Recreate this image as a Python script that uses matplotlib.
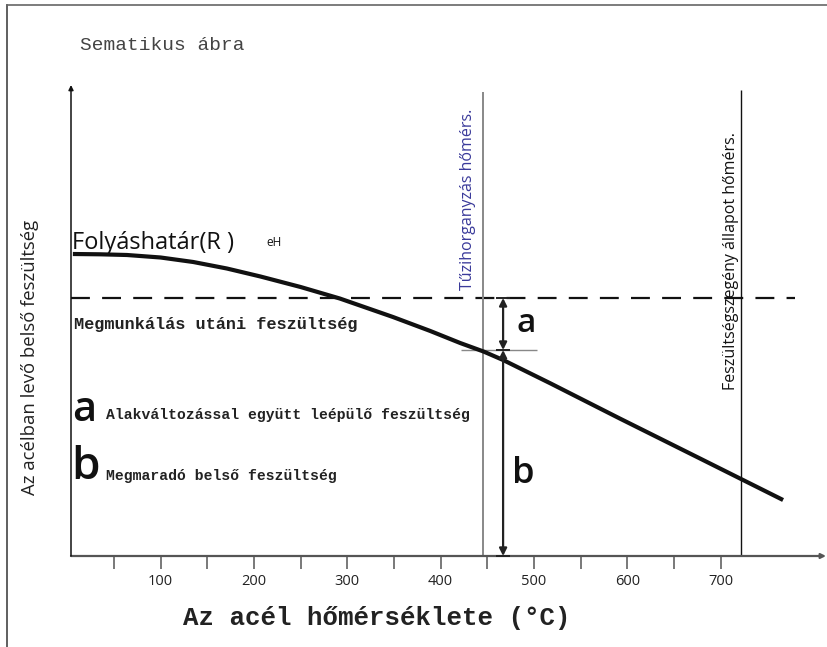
import matplotlib
matplotlib.use('Agg')
import matplotlib.pyplot as plt
from matplotlib.lines import Line2D

# ---- data (temperature in °C, stress in arbitrary schematic units) ----
temp = [6, 35, 64, 100, 135, 171, 207, 250, 292, 349, 389, 421, 446, 467, 518, 592, 678, 767]
yield_stress = [302, 301.7, 301, 298.5, 294, 287.5, 279.5, 269, 257.5, 239, 225, 213,
                204.5, 196, 172.5, 137.5, 97.5, 56]
residual_level = 258        # stress after machining (dashed line)
dashed_end = 780
galv_temp = 446             # hot-dip galvanizing temperature
galv_top = 464
relief_temp = 722           # stress-relief temperature
relief_top = 466
arrow_x = 467
stress_at_galv = 206
refline_span = [422, 503]
major_ticks = [100, 200, 300, 400, 500, 600, 700]
major_labels = ['100', '200', '300', '400', '500', '600', '700']
minor_ticks = [50, 150, 250, 350, 450, 550, 650]

W, H = 828, 647
fig = plt.figure(figsize=(W / 100, H / 100), dpi=100)
fig.patch.set_facecolor('white')


def P(x, y):
    return (x / W, 1 - y / H)


ax = fig.add_axes([71 / W, (H - 556) / H, (826 - 71) / W, (556 - 85) / H])
ax.set_xlim(4, 813)
ax.set_ylim(0, 471)
for s in ax.spines.values():
    s.set_visible(False)
ax.patch.set_alpha(0)
ax.set_yticks([])
ax.set_xticks(major_ticks)
ax.set_xticklabels(major_labels, family='Open Sans', fontsize=10.5, color='#222')
ax.set_xticks(minor_ticks, minor=True)
ax.tick_params(axis='x', which='both', direction='out', length=9.5, width=1.1,
               color='#555', pad=3.5)

# axes with arrows
ax.annotate('', xy=(1.0, 0), xytext=(0, 0), xycoords='axes fraction',
            arrowprops=dict(arrowstyle='-|>', color='#555', lw=1.6,
                            mutation_scale=7, shrinkA=0, shrinkB=0))
ax.annotate('', xy=(0, 1.0), xytext=(0, 0), xycoords='axes fraction',
            arrowprops=dict(arrowstyle='-|>', color='#111', lw=1.1,
                            mutation_scale=7, shrinkA=0, shrinkB=0))

# dashed residual stress line
ax.hlines(residual_level, ax.get_xlim()[0], dashed_end, colors='#111',
          linewidth=1.6, linestyles=(0, (8.5, 5.5)))

# vertical temperature lines
ax.vlines(galv_temp, 0, galv_top, colors='#888888', linewidth=1.4)
ax.vlines(relief_temp, 0, relief_top, colors='#111111', linewidth=1.0)

# small reference line at intersection
ax.hlines(stress_at_galv, refline_span[0], refline_span[1], colors='#888888', linewidth=1.0)

# yield strength curve
ax.plot(temp, yield_stress, color='#111111', lw=3.0, solid_capstyle='butt',
        solid_joinstyle='round', zorder=5)

# dimension arrows a and b
arr = dict(arrowstyle='<|-|>', color='#222', lw=1.6, mutation_scale=11,
           shrinkA=0, shrinkB=0)
ax.annotate('', xy=(arrow_x, residual_level), xytext=(arrow_x, stress_at_galv),
            arrowprops=arr, zorder=6)
ax.annotate('', xy=(arrow_x, stress_at_galv), xytext=(arrow_x, 0),
            arrowprops=arr, zorder=6)
ax.plot([arrow_x] * 3, [residual_level, stress_at_galv, 0], linestyle='none',
        marker='_', markersize=10, markeredgewidth=1.4, color='#222', zorder=6)

# ---- texts ----
fig.text(*P(80, 46), 'Sematikus ábra', family='Liberation Mono', fontsize=14,
         color='#444', va='center', ha='left')
fig.text(*P(30, 357), 'Az acélban levő belső feszültség', family='Open Sans',
         fontsize=13.3, rotation=90, va='center', ha='center', color='#222')
fig.text(*P(377, 618), 'Az acél hőmérséklete (°C)', family='Liberation Mono',
         fontweight='bold', fontsize=18.5, va='center', ha='center', color='#222')

fig.text(*P(72, 249), 'Folyáshatár(R )', family='Open Sans', fontsize=17,
         va='baseline', ha='left', color='#111')
fig.text(*P(266, 246), 'eH', family='Open Sans', fontsize=8.5,
         va='baseline', ha='left', color='#111')
fig.text(*P(74, 325), 'Megmunkálás utáni feszültség', family='Liberation Mono',
         fontweight='bold', fontsize=12.2, va='center', ha='left', color='#222')

fig.text(*P(72, 421), 'a', family='Open Sans', fontweight='semibold', fontsize=30,
         va='baseline', ha='left', color='#111')
fig.text(*P(106, 419), 'Alakváltozással együtt leépülő feszültség',
         family='Liberation Mono', fontweight='bold', fontsize=10.6,
         va='baseline', ha='left', color='#222')
fig.text(*P(71, 479), 'b', family='Open Sans', fontweight='semibold', fontsize=33,
         va='baseline', ha='left', color='#111')
fig.text(*P(106, 480), 'Megmaradó belső feszültség', family='Liberation Mono',
         fontweight='bold', fontsize=10.6, va='baseline', ha='left', color='#222')

ax.text(arrow_x + 14, (residual_level + stress_at_galv) / 2, 'a', family='Open Sans',
        fontweight='semibold', fontsize=24, va='center', ha='left', color='#111')
ax.text(arrow_x + 10, 82, 'b', family='Open Sans', fontweight='semibold', fontsize=26,
        va='center', ha='left', color='#111')

ax.text(galv_temp - 17, 266, 'Tűzihorganyzás hőmérs.', family='Open Sans',
        fontsize=11.5, rotation=90, va='bottom', ha='center', color='#3a3a9a')
ax.text(relief_temp - 11, 166, 'Feszültségszegény állapot hőmérs.', family='Open Sans',
        fontsize=11.5, rotation=90, va='bottom', ha='center', color='#111')

# page border (left and top edges)
fig.add_artist(Line2D([7 / W, 7 / W], [0, 1 - 5 / H], color='#444', lw=1.2))
fig.add_artist(Line2D([7 / W, 1], [1 - 5 / H, 1 - 5 / H], color='#666', lw=1.2))

fig.savefig('out.png', dpi=100)
